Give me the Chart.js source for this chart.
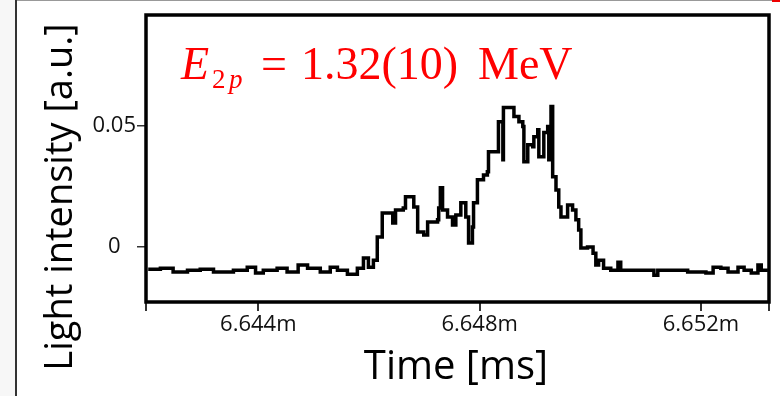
<!DOCTYPE html>
<html>
<head>
<meta charset="utf-8">
<script src="https://cdn.jsdelivr.net/npm/chart.js@4.4.1/dist/chart.umd.min.js"></script>
<style>
html, body { margin: 0; padding: 0; background: #fff; }
#wrap { position: relative; width: 780px; height: 396px; overflow: hidden; }
#strip { position: absolute; left: 0; top: 0; width: 15px; height: 396px; background: #f7f7f7; border-right: 2px solid #333; }
#topline { position: absolute; left: 17px; top: 0; width: 763px; height: 1px; background: #999; }
#redmark { position: absolute; left: 772px; top: 0; width: 8px; height: 2px; background: #e00; }
canvas { position: absolute; left: 0; top: 0; }
</style>
</head>
<body>
<div id="wrap">
  <div id="strip"></div>
  <div id="topline"></div>
  <div id="redmark"></div>
  <canvas id="c" width="780" height="396"></canvas>
</div>
<script>
// time in ms
var times = [
  6.64201, 6.64223, 6.64246, 6.64272, 6.64295, 6.64319, 6.64355, 6.64380, 6.64395, 6.64409,
  6.64434, 6.64452, 6.64472, 6.64489, 6.64512, 6.64530, 6.64543, 6.64561, 6.64579, 6.64590,
  6.64599, 6.64608, 6.64615, 6.64624, 6.64635, 6.64643, 6.64648, 6.64662, 6.64666, 6.64675,
  6.64681, 6.64688, 6.64699, 6.64706, 6.64724, 6.64726, 6.64729, 6.64733, 6.64742, 6.64751,
  6.64757, 6.64766, 6.64775, 6.64780, 6.64787, 6.64789, 6.64796, 6.64807, 6.64814, 6.64816,
  6.64833, 6.64834, 6.64842, 6.64843, 6.64856, 6.64862, 6.64871, 6.64878, 6.64880, 6.64887,
  6.64896, 6.64898, 6.64905, 6.64907, 6.64916, 6.64923, 6.64925, 6.64929, 6.64932, 6.64938,
  6.64943, 6.64947, 6.64959, 6.64968, 6.64974, 6.64979, 6.64983, 6.64995, 6.65005, 6.65010,
  6.65015, 6.65024, 6.65037, 6.65050, 6.65055, 6.65073, 6.65097, 6.65115, 6.65122, 6.65158,
  6.65176, 6.65209, 6.65222, 6.65236, 6.65249, 6.65267, 6.65278, 6.65291, 6.65303, 6.65309,
  6.65321
];
var intensity = [
  -0.0091, -0.0087, -0.0103, -0.0095, -0.0091, -0.0103, -0.0095, -0.0083, -0.0107, -0.0095,
  -0.0087, -0.0103, -0.0074, -0.0087, -0.0103, -0.0083, -0.0095, -0.0112, -0.0087, -0.0045,
  -0.0083, -0.0054, 0.0041, 0.0140, 0.0140, 0.0099, 0.0153, 0.0161, 0.0207, 0.0207,
  0.0165, 0.0062, 0.0050, 0.0103, 0.0112, 0.0161, 0.0244, 0.0153, 0.0124, 0.0091,
  0.0132, 0.0182, 0.0124, 0.0017, 0.0083, 0.0182, 0.0277, 0.0297, 0.0310, 0.0392,
  0.0392, 0.0516, 0.0359, 0.0574, 0.0574, 0.0537, 0.0516, 0.0496, 0.0351, 0.0421,
  0.0413, 0.0454, 0.0483, 0.0372, 0.0471, 0.0496, 0.0359, 0.0578, 0.0289, 0.0235,
  0.0165, 0.0124, 0.0173, 0.0153, 0.0112, 0.0070, -0.0004, 0.0000, -0.0025, -0.0074,
  -0.0054, -0.0087, -0.0095, -0.0062, -0.0095, -0.0095, -0.0095, -0.0116, -0.0095, -0.0095,
  -0.0103, -0.0107, -0.0083, -0.0087, -0.0103, -0.0083, -0.0095, -0.0107, -0.0074, -0.0095,
  -0.0095
];
var xTicks = [6.644, 6.648, 6.652];
var yTicks = [0, 0.05];
var xMin = 6.64197, xMax = 6.65323;
var yMin = -0.0226, yMax = 0.0955;

var points = times.map(function (t, i) { return { x: t, y: intensity[i] }; });

var framePlugin = {
    id: 'frame',
    afterDatasetsDraw: function (chart) {
        var a = chart.chartArea;
        var ctx = chart.ctx;
        ctx.save();
        ctx.strokeStyle = '#000';
        ctx.lineWidth = 3.5;
        ctx.strokeRect(a.left, a.top, a.right - a.left, a.bottom - a.top);
        ctx.restore();
    },
    afterDraw: function (chart) {
        var ctx = chart.ctx;
        ctx.save();
        ctx.fillStyle = '#000';
        // axis titles
        ctx.font = '40px "Open Sans"';
        ctx.textAlign = 'center';
        ctx.textBaseline = 'alphabetic';
        ctx.fillText('Time [ms]', 456, 379);
        ctx.translate(72, 197);
        ctx.rotate(-Math.PI / 2);
        ctx.font = '38px "Open Sans"';
        ctx.fillText('Light intensity [a.u.]', 0, 0);
        ctx.restore();

        // red annotation
        ctx.save();
        ctx.fillStyle = '#ff0000';
        ctx.textAlign = 'left';
        ctx.textBaseline = 'alphabetic';
        ctx.font = 'italic 46px "Liberation Serif"';
        ctx.fillText('E', 181, 79);
        ctx.font = '27px "Liberation Serif"';
        ctx.fillText('2', 212, 88);
        ctx.font = 'italic 27px "Liberation Serif"';
        ctx.fillText('p', 229, 88);
        ctx.font = '46px "Liberation Serif"';
        ctx.fillText('=', 261, 79);
        ctx.fillText('1.32(10)', 301, 79);
        ctx.fillText('MeV', 478, 79);
        ctx.restore();
    }
};

new Chart(document.getElementById('c').getContext('2d'), {
    type: 'line',
    data: {
        datasets: [{
            data: points,
            borderColor: '#000',
            borderWidth: 3.5,
            stepped: true,
            pointRadius: 0,
            fill: false
        }]
    },
    options: {
        responsive: false,
        animation: false,
        layout: { padding: { top: 15, right: 11, left: 0, bottom: 0 } },
        plugins: {
            legend: { display: false },
            tooltip: { enabled: false }
        },
        scales: {
            x: {
                type: 'linear',
                min: xMin,
                max: xMax,
                border: { display: false },
                grid: { display: true, drawOnChartArea: false, drawTicks: true, tickLength: 9, color: '#333', lineWidth: 2 },
                afterBuildTicks: function (scale) {
                    scale.ticks = [xMin].concat(xTicks, [xMax]).map(function (v) { return { value: v }; });
                },
                afterFit: function (scale) { scale.height = 94; },
                ticks: {
                    autoSkip: false,
                    maxRotation: 0,
                    padding: 1,
                    color: '#111',
                    font: { family: 'Open Sans', size: 22 },
                    callback: function (value) {
                        return xTicks.indexOf(value) >= 0 ? value.toFixed(3) + 'm' : '';
                    }
                }
            },
            y: {
                min: yMin,
                max: yMax,
                border: { display: false },
                grid: { display: true, drawOnChartArea: false, drawTicks: true, tickLength: 9, color: '#333', lineWidth: 1.5 },
                afterBuildTicks: function (scale) {
                    scale.ticks = yTicks.map(function (v) { return { value: v }; });
                },
                afterFit: function (scale) { scale.width = 146; },
                ticks: {
                    padding: 1,
                    crossAlign: 'center',
                    color: '#111',
                    font: { family: 'Open Sans', size: 22 },
                    callback: function (value) { return value === 0 ? '0' : String(value); }
                }
            }
        }
    },
    plugins: [framePlugin]
});
</script>
</body>
</html>
